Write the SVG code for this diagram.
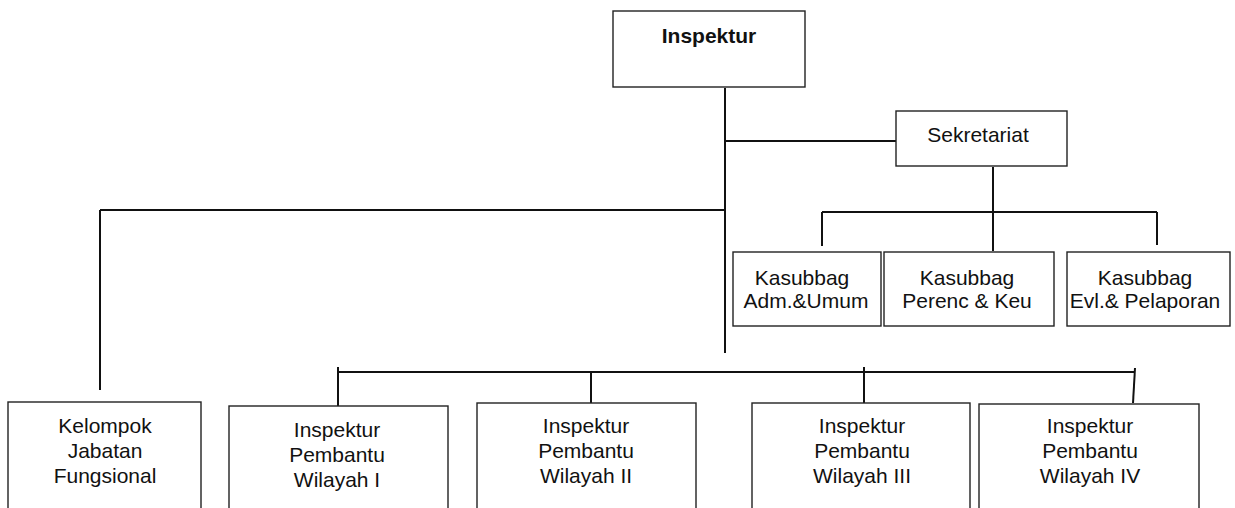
<svg xmlns="http://www.w3.org/2000/svg" width="1235" height="508" viewBox="0 0 1235 508">
<style>
.box{fill:#fff;stroke:#222;stroke-width:1.4}
.c{fill:none;stroke:#111;stroke-width:2}
text{font-family:"Liberation Sans",Arial,sans-serif;font-size:21px;fill:#111;text-anchor:middle}
.b{font-weight:bold}
</style>
<rect width="1235" height="508" fill="#fff"/>
<g id="connectors">
<path class="c" d="M725 88V353"/>
<path class="c" d="M725 141H896"/>
<path class="c" d="M100 210H725"/>
<path class="c" d="M100 210V390"/>
<path class="c" d="M993 167V251"/>
<path class="c" d="M822 212H1157"/>
<path class="c" d="M822 212V246"/>
<path class="c" d="M1157 212V245"/>
<path class="c" d="M338 372H1134"/>
<path class="c" d="M338 367V410"/>
<path class="c" d="M591 372V408"/>
<path class="c" d="M864 367V403"/>
<path class="c" d="M1135 368L1133 403"/>
</g>
<g id="inspektur"><rect class="box" x="613" y="11" width="192" height="76"/><text class="b" x="709" y="43">Inspektur</text></g>
<g id="sekretariat"><rect class="box" x="896" y="111" width="171" height="55"/><text x="978" y="142">Sekretariat</text></g>
<g id="kasubbag-adm"><rect class="box" x="733" y="252" width="148" height="74"/><text x="802" y="285">Kasubbag</text><text x="806" y="308">Adm.&amp;Umum</text></g>
<g id="kasubbag-perenc"><rect class="box" x="884" y="252" width="170" height="74"/><text x="967" y="285">Kasubbag</text><text x="967" y="308">Perenc &amp; Keu</text></g>
<g id="kasubbag-evl"><rect class="box" x="1067" y="252" width="163" height="74"/><text x="1145" y="285">Kasubbag</text><text x="1145" y="308">Evl.&amp; Pelaporan</text></g>
<g id="kelompok"><rect class="box" x="8" y="402" width="193" height="120"/><text x="105" y="433">Kelompok</text><text x="105" y="458">Jabatan</text><text x="105" y="483">Fungsional</text></g>
<g id="wilayah1"><rect class="box" x="229" y="406" width="219" height="120"/><text x="337" y="437">Inspektur</text><text x="337" y="462">Pembantu</text><text x="337" y="487">Wilayah I</text></g>
<g id="wilayah2"><rect class="box" x="477" y="403" width="219" height="120"/><text x="586" y="433">Inspektur</text><text x="586" y="458">Pembantu</text><text x="586" y="483">Wilayah II</text></g>
<g id="wilayah3"><rect class="box" x="752" y="403" width="218" height="120"/><text x="862" y="433">Inspektur</text><text x="862" y="458">Pembantu</text><text x="862" y="483">Wilayah III</text></g>
<g id="wilayah4"><rect class="box" x="979" y="404" width="220" height="120"/><text x="1090" y="433">Inspektur</text><text x="1090" y="458">Pembantu</text><text x="1090" y="483">Wilayah IV</text></g>
</svg>
